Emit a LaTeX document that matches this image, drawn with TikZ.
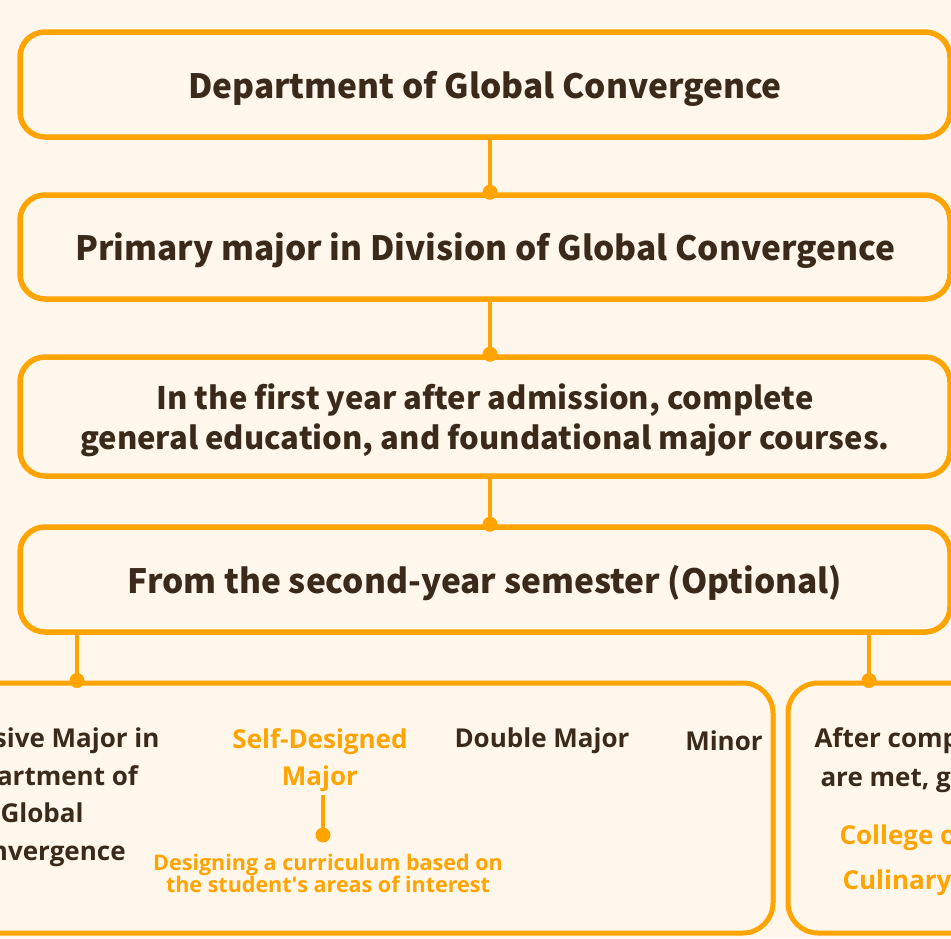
\documentclass[tikz,border=0pt]{standalone}
\usepackage{fontspec}
\usepackage{xcolor}
\usetikzlibrary{positioning,calc}
\setmainfont{Open Sans}
\newfontfamily\headfont{Noto Sans CJK KR}
\definecolor{cream}{HTML}{FFF7EC}
\definecolor{amber}{HTML}{FFA400}
\definecolor{cocoa}{HTML}{3B2A1A}

\begin{document}
\begin{tikzpicture}[x=1pt, y=-1pt,
    stage/.style={draw=amber, line width=5.5pt, rounded corners=25pt, fill=cream,
        minimum width=930pt, text=cocoa, align=center, text depth=0pt,
        font=\headfont\bfseries\fontsize{33.5}{40}\selectfont},
    branch/.style={draw=amber, line width=5pt, rounded corners=30pt, fill=cream,
        minimum height=250pt},
    item/.style={text=cocoa, align=center, font=\bfseries\fontsize{26}{37.5}\selectfont},
    pick/.style={text=amber, align=center, font=\bfseries\fontsize{26}{37.5}\selectfont},
    note/.style={text=amber, align=center, font=\bfseries\fontsize{21.5}{22}\selectfont},
    link/.style={draw=amber, line width=4.5pt},
    joint/.style={fill=amber}]
    \useasboundingbox (0,0) rectangle (951,938);
    \fill[cream] (0,0) rectangle (951,938);
    \clip (0,0) rectangle (951,938);

    % main column
    \node[stage, minimum height=105pt] (dept) at (485,84.5) {Department of Global Convergence};
    \node[stage, minimum height=104pt] (primary) at (485,247) {Primary major in Division of Global Convergence};
    \node[stage, minimum height=119pt, font=\headfont\bfseries\fontsize{31}{40}\selectfont] (firstyear) at (485,416.5)
        {In the first year after admission, complete\\general education, and foundational major courses.};
    \node[stage, minimum height=105pt] (second) at (485,579.5) {From the second-year semester (Optional)};

    \foreach \a/\b in {dept/primary, primary/firstyear, firstyear/second} {
        \draw[link] ([xshift=5pt]\a.south) -- ([xshift=5pt]\b.north);
        \fill[joint] ([xshift=5pt]\b.north) circle (7.5);
    }

    % options
    \node[branch, minimum width=973pt] (options) at (286.5,808) {};
    \node[branch, minimum width=412pt] (culinary) at (994,808) {};
    \coordinate (splitL) at (77,0);
    \coordinate (splitR) at (869,0);
    \draw[link] (splitL |- second.south) -- (splitL |- options.north);
    \fill[joint] (splitL |- options.north) circle (7.5);
    \draw[link] (splitR |- second.south) -- (splitR |- culinary.north);
    \fill[joint] (splitR |- culinary.north) circle (7.5);

    \node[item] (intensive) at (42,797) {Intensive Major in\\Department of\\Global\\Convergence};
    \node[pick] (selfmajor) at (320,760) {Self-Designed\\Major};
    \node[item] (double) at (542,741) {Double Major};
    \node[item] (minor) at (724,741) {Minor};
    \node[note] (selfnote) at (328,873) {Designing a curriculum based on\\the student\textquotesingle s areas of interest};
    \coordinate (selftip) at (323,835);
    \draw[link] (selftip |- selfmajor.south) -- (selftip);
    \fill[joint] (selftip) circle (7.5);

    % transfer box (cut by the page edge)
    \node[item, anchor=west] (after1) at (811,741) {After completing the program, if requirements};
    \node[item, anchor=west] (after2) at (817,780) {are met, graduates may enter};
    \node[pick, anchor=west] (college) at (836,838) {College of Hospitality};
    \node[pick, anchor=west] (culinaryarts) at (839,883) {Culinary Arts};
\end{tikzpicture}
\end{document}
